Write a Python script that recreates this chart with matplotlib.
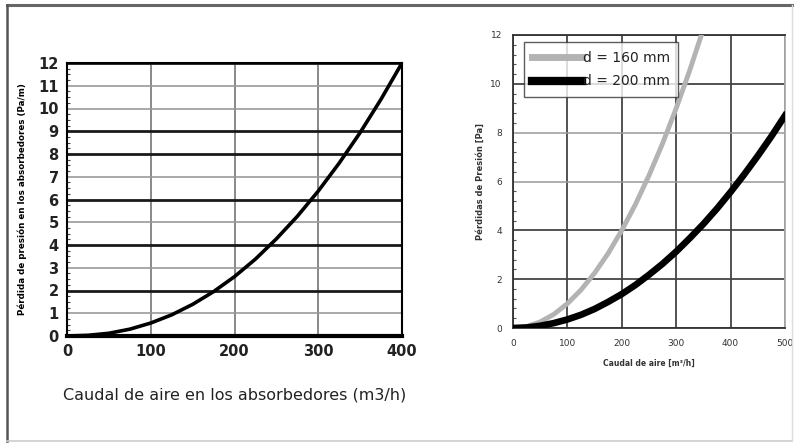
import matplotlib
matplotlib.use("Agg")
import matplotlib.pyplot as plt
from matplotlib.lines import Line2D
import numpy as np

# ---- data: left chart ----
caudal_abs = [0, 25, 50, 75, 100, 125, 150, 175, 200, 225, 250, 275, 300, 325, 350, 375, 400]
perdida_abs = [0.0, 0.03, 0.12, 0.30, 0.57, 0.93, 1.39, 1.95, 2.61, 3.38, 4.27, 5.26, 6.37, 7.60, 8.94, 10.41, 12.0]
left_xticks = [0, 100, 200, 300, 400]
left_yticks = list(range(0, 13))

# ---- data: right chart ----
caudal_aire = [0, 25, 50, 75, 100, 125, 150, 175, 200, 225, 250, 275, 300, 325, 350, 375, 400, 425, 450, 475, 500]
perdida_160 = [0.0, 0.06, 0.25, 0.56, 1.0, 1.56, 2.25, 3.06, 4.0, 5.06, 6.25, 7.56, 9.0, 10.56, 12.25, None, None, None, None, None, None]
perdida_200 = [0.0, 0.02, 0.09, 0.20, 0.35, 0.54, 0.78, 1.07, 1.39, 1.76, 2.18, 2.63, 3.13, 3.68, 4.26, 4.89, 5.57, 6.29, 7.05, 7.85, 8.7]
right_xticks = [0, 100, 200, 300, 400, 500]
right_yticks = [0, 2, 4, 6, 8, 10, 12]
labels = ["d = 160 mm", "d = 200 mm"]

W, H = 794, 445
fig = plt.figure(figsize=(W / 100, H / 100), dpi=100)
fig.patch.set_facecolor("white")

def ax_rect(l, t, r, b):
    return [l / W, 1 - b / H, (r - l) / W, (b - t) / H]

# ---------- left ----------
ax1 = fig.add_axes(ax_rect(67, 63, 402, 336))
ax1.plot(caudal_abs, perdida_abs, color="black", lw=2.6, zorder=3)
ax1.set_xlim(0, 400)
ax1.set_ylim(0, 12)
ax1.set_xticks(left_xticks)
ax1.set_yticks(left_yticks)
ax1.tick_params(axis="both", length=0, labelsize=10.5, pad=6)
ax1.set_yticks(np.arange(0, 12.01, 0.25), minor=True)
ax1.tick_params(axis="y", which="minor", length=2, width=0.8, direction="in", color="#444")
ax1.grid(True, axis="x", color="#888888", lw=1.4)
ax1.grid(True, axis="y")
thick = {0, 2, 4, 6, 8, 9, 12}
for v, gl in zip(left_yticks, ax1.get_ygridlines()):
    if v in thick:
        gl.set_color("#1a1a1a"); gl.set_linewidth(2.0)
    else:
        gl.set_color("#999999"); gl.set_linewidth(1.2)
ax1.set_axisbelow(True)
for s in ax1.spines.values():
    s.set_color("black"); s.set_linewidth(1.5)
ax1.spines["bottom"].set_linewidth(3)
ax1.set_xlabel("Caudal de aire en los absorbedores (m3/h)", fontsize=11.5, labelpad=20, color="#222")
ax1.set_ylabel("Pérdida de presión en los absorbedores (Pa/m)", fontsize=6.3, fontweight="bold", labelpad=8)
for t in ax1.get_xticklabels() + ax1.get_yticklabels():
    t.set_fontweight("bold")
    t.set_color("#222")

# ---------- right ----------
ax2 = fig.add_axes(ax_rect(513, 35, 785, 328))
y160 = np.array([np.nan if v is None else v for v in perdida_160], dtype=float)
ax2.plot(caudal_aire, y160, color="#b3b3b3", lw=3.5, label=labels[0], zorder=3)
ax2.plot(caudal_aire, perdida_200, color="black", lw=4.8, label=labels[1], zorder=3)
ax2.set_xlim(0, 500)
ax2.set_ylim(0, 12)
ax2.set_xticks(right_xticks)
ax2.set_yticks(right_yticks)
ax2.set_yticks(np.arange(0, 12.01, 0.4), minor=True)
ax2.tick_params(axis="both", length=0, labelsize=6.5, pad=8, labelcolor="#333")
ax2.tick_params(axis="y", which="minor", length=2, width=0.8, direction="in", color="#555")
ax2.grid(True, color="#444444", lw=1.3)
for v, gl in zip(right_yticks, ax2.get_ygridlines()):
    if v in (6, 8):
        gl.set_color("#999999"); gl.set_linewidth(1.1)
ax2.set_axisbelow(True)
for s in ax2.spines.values():
    s.set_color("#333"); s.set_linewidth(1.3)
ax2.spines["right"].set_color("#aaaaaa")
ax2.set_xlabel("Caudal de aire [m³/h]", fontsize=5.5, fontweight="bold", labelpad=8, color="#333")
ax2.set_ylabel("Pérdidas de Presión [Pa]", fontsize=6, fontweight="bold", labelpad=4, color="#333")
leg = ax2.legend(loc="upper left", bbox_to_anchor=(0.04, 0.975), fontsize=10, frameon=True,
                 fancybox=False, handlelength=3.6, handletextpad=0.05, borderpad=0.6,
                 labelspacing=0.7, borderaxespad=0)
leg.get_frame().set_edgecolor("#333")
leg.get_frame().set_linewidth(1.0)
for h, lw in zip(leg.get_lines(), (5, 6)):
    h.set_linewidth(lw)
for t in leg.get_texts():
    t.set_color("#222")

# ---------- outer frame ----------
def fline(x0, y0, x1, y1, c, lw):
    fig.add_artist(Line2D([x0 / W, x1 / W], [1 - y0 / H, 1 - y1 / H], color=c, lw=lw,
                          transform=fig.transFigure))
fline(7, 5, 792, 5, "#666666", 2.2)
fline(7, 5, 7, 441, "#555555", 1.8)
fline(7, 441, 792, 441, "#cccccc", 1.2)
fline(792, 5, 792, 441, "#dddddd", 1.0)

fig.savefig("out.png", dpi=100, facecolor="white")
